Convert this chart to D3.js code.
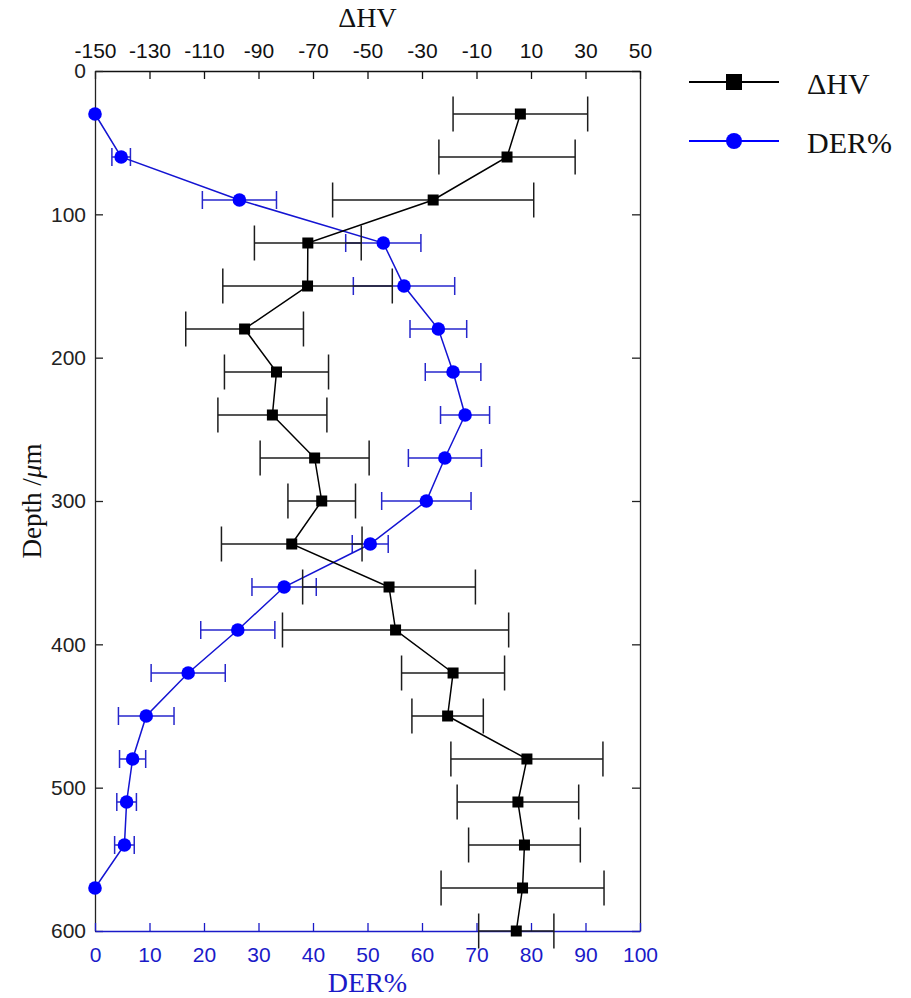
<!DOCTYPE html>
<html>
<head>
<meta charset="utf-8">
<script src="https://cdn.jsdelivr.net/npm/d3@7"></script>
<style>
  body { margin: 0; background: #fff; }
  svg { display: block; }
</style>
</head>
<body>
<svg id="chart"></svg>
<script>
// depth of each measurement (µm)
const hvDepths = [30, 60, 90, 120, 150, 180, 210, 240, 270, 300, 330, 360, 390, 420, 450, 480, 510, 540, 570, 600];
const hvValues = [6.1, 1.2, -25.9, -71.9, -72, -95.1, -83.4, -84.9, -69.4, -66.8, -77.8, -42.1, -39.7, -18.6, -20.6, 8.5, 5.2, 7.6, 6.9, 4.6];
const hvErrors = [24.7, 25, 36.9, 19.6, 31.1, 21.6, 19.1, 20, 20, 12.4, 25.8, 31.7, 41.5, 18.9, 13.1, 27.9, 22.3, 20.5, 29.9, 13.8];

const derDepths = [30, 60, 90, 120, 150, 180, 210, 240, 270, 300, 330, 360, 390, 420, 450, 480, 510, 540, 570];
const derValues = [0, 4.8, 26.5, 52.9, 56.7, 63.0, 65.7, 67.9, 64.2, 60.8, 50.5, 34.7, 26.2, 17.1, 9.4, 6.9, 5.8, 5.4, 0];
const derErrors = [0, 1.7, 6.8, 6.9, 9.3, 5.2, 5.1, 4.5, 6.7, 8.2, 3.3, 5.9, 6.8, 6.8, 5.1, 2.4, 1.8, 1.8, 0];

const hvTicks = [-150, -130, -110, -90, -70, -50, -30, -10, 10, 30, 50];
const derTicks = [0, 10, 20, 30, 40, 50, 60, 70, 80, 90, 100];
const depthTicks = [0, 100, 200, 300, 400, 500, 600];

// plain hyphen for negatives, like the original figure
const plainFormat = d => String(d);

const config = {
  width: 911,
  height: 998,
  plot: { left: 95, right: 640, top: 71, bottom: 931 },
  blue: '#0000ff',
  blueLine: '#1414d2',
  tickFont: '"Liberation Sans", Arial, sans-serif',
  titleFont: '"Liberation Serif", "Times New Roman", serif'
};

createDepthChart('chart', config);

function createDepthChart(id, config) {
  setSvgToConfig(config, id);
  setScalesToConfig(config);
  drawAxes(config);
  drawDerSeries(config);
  drawHvSeries(config);
  drawAxisTitles(config);
  drawLegend(config);
}

function setSvgToConfig(config, id) {
  config.svg = d3
    .select(`#${id}`)
    .attr('width', config.width)
    .attr('height', config.height);
}

function setScalesToConfig(config) {
  const p = config.plot;
  config.y = d3.scaleLinear().domain([0, 600]).range([p.top, p.bottom]);
  config.xHv = d3.scaleLinear().domain([-150, 50]).range([p.left, p.right]);
  config.xDer = d3.scaleLinear().domain([0, 100]).range([p.left, p.right]);
}

function styleAxis(g, color) {
  g.select('.domain').attr('stroke', color).attr('stroke-width', 1.3);
  g.selectAll('.tick line').attr('stroke', color).attr('stroke-width', 1.3);
  g.selectAll('.tick text')
    .attr('fill', color)
    .style('font-family', config.tickFont)
    .style('font-size', '21px');
}

function drawAxes(config) {
  const p = config.plot;

  config.svg.append('g')
    .attr('transform', `translate(${p.right},0)`)
    .call(d3.axisRight(config.y).tickValues(depthTicks).tickSize(-8).tickSizeOuter(0).tickFormat(''))
    .call(g => styleAxis(g, '#222'));

  config.svg.append('g')
    .attr('transform', `translate(0,${p.top})`)
    .call(d3.axisTop(config.xHv).tickValues(hvTicks).tickSize(-8).tickSizeOuter(0).tickPadding(13).tickFormat(plainFormat))
    .call(g => styleAxis(g, '#111'));

  config.svg.append('g')
    .attr('transform', `translate(${p.left},0)`)
    .call(d3.axisLeft(config.y).tickValues(depthTicks).tickSize(-8).tickSizeOuter(0).tickPadding(9).tickFormat(plainFormat))
    .call(g => styleAxis(g, '#222'));

  config.svg.append('g')
    .attr('transform', `translate(0,${p.bottom})`)
    .call(d3.axisBottom(config.xDer).tickValues(derTicks).tickSize(-8).tickSizeOuter(0).tickPadding(16).tickFormat(plainFormat))
    .call(g => styleAxis(g, '#1a1ac8'));
}

function drawErrorBars(group, xs, ys, errs, x, y, cap, color) {
  const rows = ys.map((d, i) => ({ depth: d, value: xs[i], err: errs[i] })).filter(r => r.err > 0);
  const bars = group.selectAll('.errbar').data(rows).enter().append('g').attr('class', 'errbar')
    .attr('stroke', color).attr('stroke-width', 1.5);
  bars.append('line')
    .attr('x1', r => x(r.value - r.err)).attr('x2', r => x(r.value + r.err))
    .attr('y1', r => y(r.depth)).attr('y2', r => y(r.depth));
  bars.append('line')
    .attr('x1', r => x(r.value - r.err)).attr('x2', r => x(r.value - r.err))
    .attr('y1', r => y(r.depth) - cap).attr('y2', r => y(r.depth) + cap);
  bars.append('line')
    .attr('x1', r => x(r.value + r.err)).attr('x2', r => x(r.value + r.err))
    .attr('y1', r => y(r.depth) - cap).attr('y2', r => y(r.depth) + cap);
}

function drawDerSeries(config) {
  const g = config.svg.append('g').attr('class', 'der');
  drawErrorBars(g, derValues, derDepths, derErrors, config.xDer, config.y, 9, '#2626cc');

  const line = d3.line()
    .x((d, i) => config.xDer(derValues[i]))
    .y(d => config.y(d));
  g.append('path')
    .datum(derDepths)
    .attr('d', line)
    .attr('fill', 'none')
    .attr('stroke', config.blueLine)
    .attr('stroke-width', 1.5);

  g.selectAll('.derPoint')
    .data(derDepths)
    .enter()
    .append('circle')
    .attr('class', 'derPoint')
    .attr('cx', (d, i) => config.xDer(derValues[i]))
    .attr('cy', d => config.y(d))
    .attr('r', 6.8)
    .attr('fill', config.blue);
}

function drawHvSeries(config) {
  const g = config.svg.append('g').attr('class', 'hv');
  drawErrorBars(g, hvValues, hvDepths, hvErrors, config.xHv, config.y, 17.5, '#1c1c1c');

  const line = d3.line()
    .x((d, i) => config.xHv(hvValues[i]))
    .y(d => config.y(d));
  g.append('path')
    .datum(hvDepths)
    .attr('d', line)
    .attr('fill', 'none')
    .attr('stroke', '#000')
    .attr('stroke-width', 1.5);

  const s = 11;
  g.selectAll('.hvPoint')
    .data(hvDepths)
    .enter()
    .append('rect')
    .attr('class', 'hvPoint')
    .attr('x', (d, i) => config.xHv(hvValues[i]) - s / 2)
    .attr('y', d => config.y(d) - s / 2)
    .attr('width', s)
    .attr('height', s)
    .attr('fill', '#000');
}

function drawAxisTitles(config) {
  const p = config.plot;
  const cx = (p.left + p.right) / 2;

  config.svg.append('text')
    .attr('x', cx).attr('y', 27)
    .attr('text-anchor', 'middle')
    .style('font-family', config.titleFont).style('font-size', '28px')
    .attr('fill', '#111')
    .text('ΔHV');

  config.svg.append('text')
    .attr('x', cx).attr('y', 992)
    .attr('text-anchor', 'middle')
    .style('font-family', config.titleFont).style('font-size', '28px')
    .attr('fill', '#1a1ac8')
    .text('DER%');

  const depthTitle = config.svg.append('text')
    .attr('transform', `translate(41,${(p.top + p.bottom) / 2}) rotate(-90)`)
    .attr('text-anchor', 'middle')
    .style('font-family', config.titleFont).style('font-size', '27px')
    .attr('fill', '#111');
  depthTitle.append('tspan').text('Depth /');
  depthTitle.append('tspan').style('font-style', 'italic').text('μ');
  depthTitle.append('tspan').text('m');
}

function drawLegend(config) {
  const items = [
    { label: 'ΔHV', y: 82, color: '#000', shape: 'square' },
    { label: 'DER%', y: 141, color: config.blue, shape: 'circle' }
  ];
  const legend = config.svg.append('g').attr('class', 'legend');
  const rows = legend.selectAll('.row').data(items).enter().append('g').attr('class', 'row');

  rows.append('line')
    .attr('x1', 689).attr('x2', 779)
    .attr('y1', d => d.y).attr('y2', d => d.y)
    .attr('stroke', d => d.color)
    .attr('stroke-width', 2);

  rows.filter(d => d.shape === 'square')
    .append('rect')
    .attr('x', 734 - 8).attr('y', d => d.y - 8)
    .attr('width', 16).attr('height', 16)
    .attr('fill', '#000');

  rows.filter(d => d.shape === 'circle')
    .append('circle')
    .attr('cx', 734).attr('cy', d => d.y)
    .attr('r', 8)
    .attr('fill', config.blue);

  rows.append('text')
    .attr('x', 807)
    .attr('y', d => d.y + 12)
    .style('font-family', config.titleFont)
    .style('font-size', '30px')
    .attr('fill', '#111')
    .text(d => d.label);
}
</script>
</body>
</html>
